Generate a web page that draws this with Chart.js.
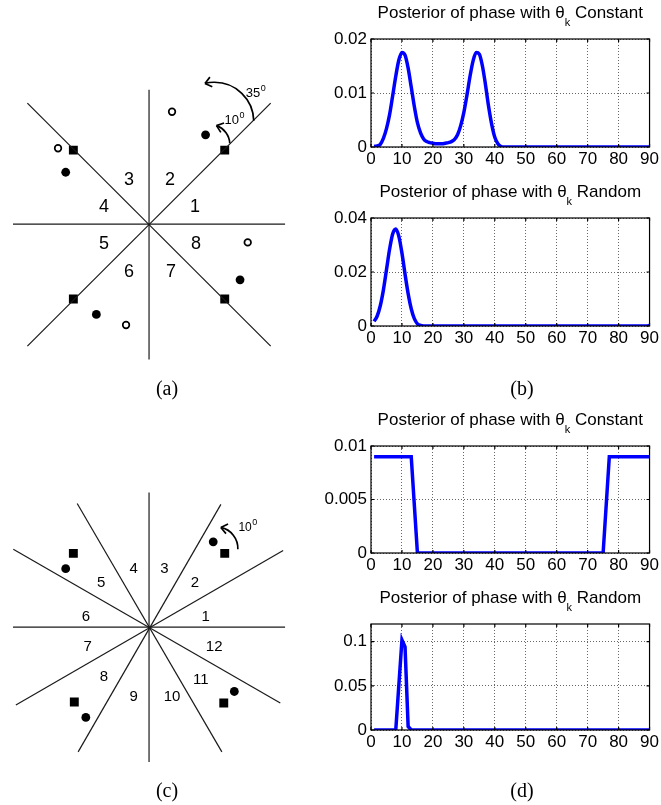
<!DOCTYPE html>
<html>
<head>
<meta charset="utf-8">
<title>Posterior of phase</title>
<script src="https://cdn.jsdelivr.net/npm/chart.js@4.4.1/dist/chart.umd.min.js"></script>
<style>
  body { margin: 0; background: #fff; }
  #page { position: relative; width: 661px; height: 805px; overflow: hidden; }
  .panel { position: absolute; }
  .caption { position: absolute; font: 20px "Liberation Serif", "Times New Roman", serif; transform: translate(-50%, -50%); white-space: nowrap; }
</style>
</head>
<body>
<div id="page">
  <div class="panel" style="left:0;top:60px;width:300px;height:320px"><canvas id="sectorsA"></canvas></div>
  <div class="panel" style="left:0;top:470px;width:300px;height:310px"><canvas id="sectorsC"></canvas></div>
  <div class="panel" style="left:315px;top:0;width:346px;height:175px"><canvas id="constB"></canvas></div>
  <div class="panel" style="left:315px;top:180px;width:346px;height:175px"><canvas id="randomB"></canvas></div>
  <div class="panel" style="left:315px;top:405px;width:346px;height:175px"><canvas id="constD"></canvas></div>
  <div class="panel" style="left:315px;top:585px;width:346px;height:175px"><canvas id="randomD"></canvas></div>
  <div class="caption" style="left:167px;top:388px">(a)</div>
  <div class="caption" style="left:522px;top:388px">(b)</div>
  <div class="caption" style="left:167px;top:790px">(c)</div>
  <div class="caption" style="left:522px;top:790px">(d)</div>
</div>

<script>
// ---- posterior curves (phase in degrees) ----
const phaseTicks = [0, 10, 20, 30, 40, 50, 60, 70, 80, 90];

// (b) top: theta_k constant, 8 sectors
const constBX = [1, 2, 3, 4, 5, 6, 7, 8, 9, 10, 11, 12, 13, 14, 15, 16, 17, 18, 19, 20, 21, 22,
  23, 24, 25, 26, 27, 28, 29, 30, 31, 32, 33, 34, 35, 36, 37, 38, 39, 40, 41, 42, 43, 44, 90];
const constBY = [0.0001, 0.0002, 0.0005, 0.0016, 0.0034, 0.0060, 0.0095, 0.0131, 0.0161, 0.0175,
  0.0170, 0.0146, 0.0111, 0.0075, 0.0045, 0.0026, 0.0015, 0.0010, 0.0008, 0.0007, 0.0006, 0.0006,
  0.0006, 0.0007, 0.0008, 0.0010, 0.0014, 0.0023, 0.0040, 0.0064, 0.0096, 0.0131, 0.0160, 0.0175,
  0.0172, 0.0150, 0.0115, 0.0075, 0.0042, 0.0018, 0.0006, 0.0001, 0, 0, 0];
const constBTicks = [0, 0.01, 0.02];

// (b) bottom: theta_k random, 8 sectors
const randomBX = [1, 2, 3, 4, 5, 6, 7, 8, 9, 10, 11, 12, 13, 14, 15, 16, 17, 18, 89, 90];
const randomBY = [0.0017, 0.0037, 0.0075, 0.0133, 0.0208, 0.0284, 0.0341, 0.0359, 0.0332, 0.0270,
  0.0192, 0.0120, 0.0064, 0.0027, 0.0008, 0.0002, 0, 0, 0, 0.0002];
const randomBTicks = [0, 0.02, 0.04];

// (d) top: theta_k constant, 12 sectors
const constDX = [1, 13, 15, 75, 77, 90];
const constDY = [0.009, 0.009, 0, 0, 0.009, 0.009];
const constDTicks = [0, 0.005, 0.01];

// (d) bottom: theta_k random, 12 sectors
const randomDX = [1, 8, 10, 11, 12, 13, 90];
const randomDY = [0, 0, 0.102, 0.094, 0.004, 0, 0];
const randomDTicks = [0, 0.05, 0.1];

// ---- sector diagrams (units relative to the centre, y up) ----
const spokesA = [[-142, 0, 142, 0], [0, 140, 0, -141], [-127, 126, 127, -127], [-127, -127, 127, 126]];
const squaresA = [[79, 77], [-79, 77], [-79, -78], [79, -78]];
const dotsA = [[59, 93], [-87, 54], [-55, -94], [95, -58]];
const ringsA = [[24, 117], [-95, 79], [-24, -105], [103, -19]];
const sectorNamesA = ['1', '2', '3', '4', '5', '6', '7', '8'];
const sectorSpotsA = [[48, 18], [22, 46], [-21, 46], [-47, 18], [-47, -21], [-21, -50], [23, -50], [49, -21]];
// arrows: centre x, centre y, radius, start deg, end deg
const arrowsA = [[68.3, 106.8, 41, 1, 104], [63.7, 83.1, 20.6, 3, 71]];
const angleNotesA = [['35', 101, 132.6], ['10', 78.7, 104.3]];

const spokesC = [[-142, 0, 142, 0], [0, 140.5, 0, -140.5], [-139, -81, 140, 80], [-74, -130, 75, 128],
  [-75, 129, 76, -130], [-141.7, 81.3, 137, -79]];
const squaresC = [[79, 77], [-79, 77], [-78, -78], [78, -79]];
const dotsC = [[67, 89], [-87, 61], [-66, -94], [89, -67]];
const sectorNamesC = ['1', '2', '3', '4', '5', '6', '7', '8', '9', '10', '11', '12'];
const sectorSpotsC = [[59, 11], [48, 46], [16, 61], [-16, 61], [-50, 46], [-66, 11], [-64, -20],
  [-47, -52], [-16, -73], [24, -73], [54, -55], [68, -21]];
const arrowsC = [[70.3, 82.1, 22.4, -2, 78]];
const angleNotesC = [['10', 93.3, 100]];

const SANS = '"Liberation Sans", Arial, Helvetica, sans-serif';

// title with theta_k subscript, centred over the plot area
const thetaTitle = {
  id: 'thetaTitle',
  afterDraw(chart, args, opts) {
    const { ctx, chartArea } = chart;
    const big = '17px ' + SANS, small = '11px ' + SANS;
    const head = 'Posterior of phase with \u03b8', tail = ' ' + opts.word;
    ctx.save();
    ctx.fillStyle = '#000';
    ctx.textBaseline = 'alphabetic';
    ctx.font = big;
    const w1 = ctx.measureText(head).width, w3 = ctx.measureText(tail).width;
    ctx.font = small;
    const w2 = ctx.measureText('k').width;
    let x = (chartArea.left + chartArea.right) / 2 - (w1 + w2 + w3) / 2;
    const y = chartArea.top - 21;
    ctx.font = big;
    ctx.fillText(head, x, y);
    x += w1;
    ctx.font = small;
    ctx.fillText('k', x, y + 7.5);
    x += w2;
    ctx.font = big;
    ctx.fillText(tail, x, y);
    ctx.restore();
  }
};

// matlab style box with inward tick marks
const boxFrame = {
  id: 'boxFrame',
  afterDatasetsDraw(chart) {
    const { ctx, chartArea: a, scales: { x, y } } = chart;
    ctx.save();
    ctx.strokeStyle = '#000';
    ctx.lineWidth = 1.2;
    ctx.strokeRect(a.left, a.top, a.right - a.left, a.bottom - a.top);
    ctx.beginPath();
    x.ticks.forEach(t => {
      const px = x.getPixelForValue(t.value);
      ctx.moveTo(px, a.bottom); ctx.lineTo(px, a.bottom - 3);
      ctx.moveTo(px, a.top); ctx.lineTo(px, a.top + 3);
    });
    y.ticks.forEach(t => {
      const py = y.getPixelForValue(t.value);
      ctx.moveTo(a.left, py); ctx.lineTo(a.left + 3, py);
      ctx.moveTo(a.right, py); ctx.lineTo(a.right - 3, py);
    });
    ctx.stroke();
    ctx.restore();
  }
};

function phasePlot(id, xs, ys, yMax, yTicks, word, padTop, axisHeight, smooth) {
  const grid = { color: 'rgba(0,0,0,0.6)', lineWidth: 1, drawTicks: false };
  const border = { display: false, dash: [1, 2] };
  const tickFont = { family: SANS, size: 17 };
  return new Chart(document.getElementById(id), {
    type: 'line',
    data: {
      datasets: [{
        data: xs.map((v, i) => ({ x: v, y: ys[i] })),
        borderColor: '#0000ff',
        borderWidth: 3.5,
        pointRadius: 0,
        cubicInterpolationMode: smooth ? 'monotone' : 'default',
        tension: 0
      }]
    },
    options: {
      responsive: true,
      maintainAspectRatio: false,
      animation: false,
      events: [],
      layout: { padding: { top: padTop, right: 9, left: 0, bottom: 0 } },
      plugins: { legend: { display: false }, tooltip: { enabled: false }, thetaTitle: { word: word } },
      scales: {
        x: {
          type: 'linear', min: 0, max: 90,
          grid: grid, border: border,
          afterBuildTicks: s => { s.ticks = phaseTicks.map(v => ({ value: v })); },
          afterFit: s => { s.height = axisHeight; },
          ticks: { color: '#000', font: tickFont, padding: 2, maxRotation: 0, autoSkip: false }
        },
        y: {
          type: 'linear', min: 0, max: yMax,
          grid: grid, border: border,
          afterBuildTicks: s => { s.ticks = yTicks.map(v => ({ value: v })); },
          afterFit: s => { s.width = 56; },
          ticks: { color: '#000', font: tickFont, padding: 4, callback: v => String(v) }
        }
      }
    },
    plugins: [thetaTitle, boxFrame]
  });
}

phasePlot('constB', constBX, constBY, 0.02, constBTicks, 'Constant', 39, 28, true);
phasePlot('randomB', randomBX, randomBY, 0.04, randomBTicks, 'Random', 38, 29, true);
phasePlot('constD', constDX, constDY, 0.01, constDTicks, 'Constant', 41, 27, false);
phasePlot('randomD', randomDX, randomDY, 0.12, randomDTicks, 'Random', 39, 30, false);

// numbers, arrows and degree notes on the sector diagrams
const sectorNotes = {
  id: 'sectorNotes',
  afterDatasetsDraw(chart, args, o) {
    const { ctx, scales: { x, y } } = chart;
    const sx = v => x.getPixelForValue(v), sy = v => y.getPixelForValue(v);
    const unit = Math.abs(sx(1) - sx(0));
    ctx.save();
    ctx.fillStyle = '#000';
    ctx.font = o.numSize + 'px ' + SANS;
    ctx.textAlign = 'center';
    ctx.textBaseline = 'middle';
    o.names.forEach((t, i) => ctx.fillText(t, sx(o.spots[i][0]), sy(o.spots[i][1])));

    ctx.strokeStyle = '#000';
    ctx.lineWidth = 1.7;
    o.arrows.forEach(([cx, cy, r, a0, a1]) => {
      const px = sx(cx), py = sy(cy), pr = r * unit;
      const t0 = -a0 * Math.PI / 180, t1 = -a1 * Math.PI / 180;
      ctx.beginPath();
      ctx.arc(px, py, pr, t0, t1, true);
      ctx.stroke();
      const tipX = px + pr * Math.cos(t1), tipY = py + pr * Math.sin(t1);
      const a = a1 * Math.PI / 180;
      const bx = Math.sin(a), by = Math.cos(a); // pointing back along the arc
      const spread = 38 * Math.PI / 180, len = 8;
      ctx.beginPath();
      [spread, -spread].forEach(s => {
        const rx = bx * Math.cos(s) - by * Math.sin(s), ry = bx * Math.sin(s) + by * Math.cos(s);
        ctx.moveTo(tipX, tipY);
        ctx.lineTo(tipX + rx * len, tipY + ry * len);
      });
      ctx.stroke();
    });

    ctx.textAlign = 'left';
    ctx.textBaseline = 'alphabetic';
    o.notes.forEach(([t, nx, ny]) => {
      const px = sx(nx), py = sy(ny);
      ctx.font = o.noteSize + 'px ' + SANS;
      ctx.fillText(t, px, py);
      const w = ctx.measureText(t).width;
      ctx.font = '9px ' + SANS;
      ctx.fillText('0', px + w + 0.5, py - 6);
    });
    ctx.restore();
  }
};

function pts(list) { return list.map(p => ({ x: p[0], y: p[1] })); }

function sectorChart(id, spokes, squares, dots, rings, ext, notes) {
  const sets = spokes.map(s => ({
    data: [{ x: s[0], y: s[1] }, { x: s[2], y: s[3] }],
    showLine: true, borderColor: '#1a1a1a', borderWidth: 1.2, pointRadius: 0
  }));
  sets.push({ data: pts(squares), pointStyle: 'rect', pointRadius: 6.3, backgroundColor: '#000', borderWidth: 0 });
  sets.push({ data: pts(dots), pointStyle: 'circle', pointRadius: 4.4, backgroundColor: '#000', borderWidth: 0 });
  if (rings.length) {
    sets.push({ data: pts(rings), pointStyle: 'circle', pointRadius: 3.3, backgroundColor: '#fff', borderColor: '#000', borderWidth: 1.7 });
  }
  return new Chart(document.getElementById(id), {
    type: 'scatter',
    data: { datasets: sets },
    options: {
      responsive: true,
      maintainAspectRatio: false,
      animation: false,
      events: [],
      layout: { padding: 0 },
      plugins: { legend: { display: false }, tooltip: { enabled: false }, sectorNotes: notes },
      scales: {
        x: { type: 'linear', display: false, min: ext[0], max: ext[1] },
        y: { type: 'linear', display: false, min: ext[2], max: ext[3] }
      }
    },
    plugins: [sectorNotes]
  });
}

sectorChart('sectorsA', spokesA, squaresA, dotsA, ringsA, [-149, 151, -155.7, 164.3],
  { names: sectorNamesA, spots: sectorSpotsA, arrows: arrowsA, notes: angleNotesA, numSize: 18, noteSize: 13 });
sectorChart('sectorsC', spokesC, squaresC, dotsC, [], [-149, 151, -152.7, 157.3],
  { names: sectorNamesC, spots: sectorSpotsC, arrows: arrowsC, notes: angleNotesC, numSize: 15, noteSize: 12 });
</script>
</body>
</html>
